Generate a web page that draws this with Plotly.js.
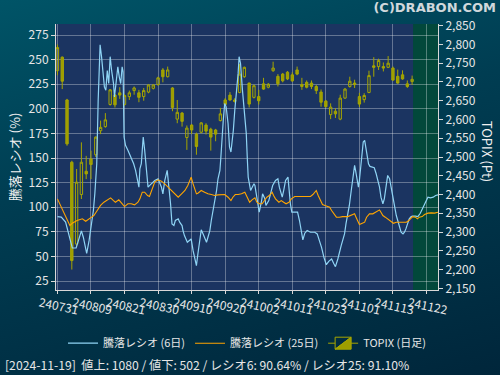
<!DOCTYPE html>
<html>
<head>
<meta charset="utf-8">
<script src="https://cdn.plot.ly/plotly-3.0.1.min.js"></script>
<style>
html,body{margin:0;padding:0;width:500px;height:375px;overflow:hidden;}
body{background:linear-gradient(165deg,#005467 0%,#003d52 40%,#00263b 100%);}
#chart{width:500px;height:375px;}
</style>
</head>
<body>
<div id="chart"></div>
<script>
// Trading days (x index = position in this list)
const days = ['2024-07-31','2024-08-01','2024-08-02','2024-08-05','2024-08-06','2024-08-07','2024-08-08','2024-08-09','2024-08-13','2024-08-14','2024-08-15','2024-08-16','2024-08-19','2024-08-20','2024-08-21','2024-08-22','2024-08-23','2024-08-26','2024-08-27','2024-08-28','2024-08-29','2024-08-30','2024-09-02','2024-09-03','2024-09-04','2024-09-05','2024-09-06','2024-09-09','2024-09-10','2024-09-11','2024-09-12','2024-09-13','2024-09-17','2024-09-18','2024-09-19','2024-09-20','2024-09-24','2024-09-25','2024-09-26','2024-09-27','2024-09-30','2024-10-01','2024-10-02','2024-10-03','2024-10-04','2024-10-07','2024-10-08','2024-10-09','2024-10-10','2024-10-11','2024-10-15','2024-10-16','2024-10-17','2024-10-18','2024-10-21','2024-10-22','2024-10-23','2024-10-24','2024-10-25','2024-10-28','2024-10-29','2024-10-30','2024-10-31','2024-11-01','2024-11-05','2024-11-06','2024-11-07','2024-11-08','2024-11-11','2024-11-12','2024-11-13','2024-11-14','2024-11-15','2024-11-18','2024-11-19'];

// Tick labels (every 7 trading days)
const tickLabels = ['240731','240809','240821','240830','240910','240920','241002','241011','241023','241101','241113','241122'];

// TOPIX daily candles
const topixOpen  = [2730,2766,2652,2486,2268,2400,2462,2495,2506,2570,2581,2640,2665,2671,2640,2661,2677,2671,2661,2673,2683,2693,2732,2714,2684,2601,2617,2552,2585,2561,2566,2585,2574,2572,2597,2652,2665,2652,2672,2714,2697,2659,2661,2695,2686,2730,2715,2721,2726,2719,2732,2693,2699,2697,2688,2673,2649,2613,2622,2601,2657,2688,2697,2661,2653,2672,2743,2741,2741,2739,2737,2715,2719,2695,2701];
const topixHigh  = [2800,2768,2655,2490,2468,2539,2503,2517,2555,2597,2617,2681,2668,2686,2667,2677,2688,2679,2684,2694,2694,2714,2737,2741,2686,2652,2620,2584,2588,2565,2593,2590,2578,2575,2631,2657,2673,2657,2748,2741,2698,2693,2679,2711,2697,2754,2721,2724,2729,2726,2741,2711,2704,2704,2692,2680,2652,2643,2630,2666,2684,2714,2706,2671,2670,2730,2766,2762,2752,2769,2741,2733,2731,2704,2717];
const topixLow   = [2718,2681,2530,2200,2262,2388,2441,2441,2500,2561,2578,2637,2632,2655,2637,2652,2666,2646,2650,2670,2680,2690,2699,2712,2622,2590,2581,2519,2561,2506,2563,2560,2517,2542,2595,2637,2650,2645,2670,2711,2632,2656,2640,2679,2683,2727,2688,2699,2705,2700,2718,2679,2683,2681,2668,2634,2632,2601,2604,2598,2655,2685,2684,2633,2645,2670,2714,2732,2728,2737,2703,2695,2706,2684,2692];
const topixClose = [2792,2702,2535,2224,2433,2486,2455,2480,2553,2579,2599,2679,2639,2665,2664,2671,2684,2659,2677,2692,2692,2711,2714,2732,2632,2619,2595,2577,2572,2528,2591,2569,2553,2561,2615,2640,2652,2648,2721,2739,2641,2690,2650,2681,2694,2737,2695,2703,2708,2703,2721,2688,2686,2688,2677,2646,2634,2633,2615,2657,2681,2702,2693,2641,2664,2717,2739,2757,2737,2750,2705,2697,2708,2688,2707];

// 騰落レシオ (6日): position in trading days, value (%)
const ratio6X = [0,0.8,1.7,2.2,2.6,3.1,3.9,4.3,4.7,5.0,5.4,5.9,6.1,6.6,7.1,7.5,7.8,8.2,8.5,8.9,9.2,9.6,9.8,10.1,10.4,10.7,11.0,11.3,11.7,11.9,12.3,12.6,12.9,13.2,13.5,13.7,13.9,14.2,14.7,15.3,15.9,16.3,16.7,17.0,17.2,17.5,17.7,17.9,18.2,18.6,18.9,19.2,19.7,20.3,21.0,21.7,22.0,22.4,22.9,23.2,23.6,23.9,24.3,24.6,25.2,25.5,26.0,26.2,26.5,27.1,27.6,27.9,28.3,28.6,29.0,29.3,29.7,30.0,30.4,30.7,31.1,31.4,31.8,32.1,32.5,32.8,33.2,33.5,33.9,34.1,34.3,34.6,34.9,35.2,35.6,35.9,36.2,36.4,36.7,37.0,37.3,37.7,37.9,38.2,38.6,38.9,39.2,39.4,39.6,39.8,40.3,41.0,41.2,41.6,42.1,42.6,42.8,43.3,43.5,44.1,44.6,44.9,45.5,46.0,46.3,46.9,47.2,47.6,48.1,48.3,48.6,48.9,49.7,50.1,50.5,50.8,51.2,51.6,52.1,52.8,53.7,54.2,54.7,55.1,55.6,56.1,56.6,57.2,57.7,58.0,58.5,58.8,59.2,59.5,59.9,60.2,60.6,60.9,61.3,61.6,62.0,62.2,62.5,62.8,63.0,63.4,63.6,63.8,64.1,64.3,64.5,64.9,65.2,65.6,66.1,66.5,66.8,67.2,67.5,67.9,68.2,68.6,68.9,69.3,69.6,70.0,70.3,70.7,71.0,71.4,71.7,72.1,72.4,72.7,73.1,73.4,73.8,74.1,74.7,75.2,75.7,76.1,76.6,77.0,77.3,77.8,78.4,78.9,79.4];
const ratio6Y = [90.5,90,85,76,66,58.6,58.6,66,73,76,69.5,56,53,66,83,96.7,113.6,144,209,265,253,232.5,222,219,239,225.7,253,239,225.7,212,229,242.7,232.5,225.7,242.7,237.6,171.4,163,158,151,144.2,137.4,127.2,120.4,139,144.2,158,171.4,158,130.6,120.4,122,124,127.2,128.9,120.4,113.6,127.2,137.4,123.8,103.5,83.1,81.4,86.5,88.2,84.8,81.4,76.3,71.2,64.4,66.1,67.8,55.9,49.1,40.6,52.5,69.5,77,72.9,69.5,64.4,69.5,76.3,86.5,96.7,106.8,117,128.9,137.4,151,168,188.4,205.4,202,185,161.2,156.1,164.6,178.2,198.6,212.2,236,253,246.1,219,202,185,174.8,151,130.6,117,123.8,122.1,108.5,95,106.8,113.6,108.5,101.8,106.8,115.3,122.1,127.2,128.9,120.4,110.2,117,127.2,130.6,117,103.5,95,95,95,86.5,78,66.8,73.6,76.3,74.6,74.6,72.9,66.1,59.3,49.1,41.6,45,47.4,42.3,39.6,47.4,54.2,61,66.1,72.9,83.1,93.3,101.8,117,130.6,142.5,137.4,127.2,120.4,127.2,144.2,154.4,166.3,168,161.2,156.1,144.2,141.5,140.8,140.1,134,128.9,120.4,110.2,103.5,108.5,125.5,132.3,128.9,120.4,110.2,100.1,91.6,86.5,78,74.6,72.9,74.6,78,83.1,88.2,90.5,90.9,90.9,90.5,93.9,98.4,103.5,106.8,110.2,109.5,110.2,111.9,112.6];

// 騰落レシオ (25日)
const ratio25X = [0,2.6,3.1,4.1,5.2,5.9,6.9,7.6,8.3,9.0,9.7,10.4,11.1,11.7,12.1,12.8,13.5,14.0,14.7,15.4,16.1,16.8,17.2,17.7,18.2,18.8,19.2,19.7,20.3,21.0,21.7,22.4,23.1,23.8,24.5,25.2,25.9,26.6,27.2,27.6,27.9,28.3,28.6,29.0,29.3,30.0,30.7,31.4,32.1,32.8,33.5,34.2,34.9,35.6,36.2,36.6,37.1,37.7,38.4,39.1,39.6,40.1,40.6,41.2,41.6,42.1,42.7,43.2,43.7,44.2,44.8,45.1,45.5,46.2,46.7,47.2,47.7,48.3,48.8,49.5,50.7,52.1,52.8,53.3,54.0,54.4,54.9,55.3,55.8,56.3,56.8,57.2,57.7,58.2,58.8,59.5,60.6,61.3,62.0,62.3,62.7,63.0,63.6,64.1,64.5,65.1,65.8,66.4,66.8,67.2,67.5,67.9,68.4,68.9,69.6,70.1,70.7,71.4,72.1,72.8,73.3,73.8,74.1,74.7,75.1,75.5,76.1,76.6,77.3,78.0,78.7,79.4];
const ratio25Y = [108.5,81.4,83.8,86.5,88.2,85.8,89.2,91.6,96.7,101.8,105.1,107.5,109.5,106.8,105.1,107.5,103.5,100.7,103.5,103.5,102.4,105.1,108.5,115.3,115.3,111.9,110.9,118,125.5,127.9,126.5,123.8,120.4,117,113.6,110.2,113.6,117,122.1,127.9,130.6,123.8,118.7,113.6,114.3,117,115.3,113.6,112.9,111.9,112.6,112.9,112.9,110.2,106.8,110.2,112.9,112.9,113.6,115.3,110.2,105.1,107.5,109.5,105.1,103.5,103.5,106.8,110.2,111.9,115.3,111.9,108.5,105.1,106.8,105.1,103.5,105.1,108.5,110.9,110.9,110.9,110.9,112.9,117,111.9,106.8,102.8,101.8,100.7,100,96.7,93.3,89.9,89.9,90.5,90.5,91.6,93.3,89.9,84.8,82.4,83.7,84.8,89.9,93.3,93.3,95,96,97.3,95,91.6,89.9,88.2,85.8,83.7,84.8,84.8,84.8,84.8,86.5,89.2,90.5,89.9,88.2,89.9,90.5,92.6,94,94.3,94,95];

// Footer values
const lastDate = '2024-11-19';
const advances = 1080, declines = 502;
const lastRatio6 = '90.64', lastRatio25 = '91.10';

const ratioTicks = [25,50,75,100,125,150,175,200,225,250,275];

const dayIdx = days.map((d, i) => i);
const tickIdx = tickLabels.map((t, i) => i * 7);

const gridCol = 'rgba(255,255,255,0.32)';
const axCol = '#d8d8d8';
const jp = '"Noto Sans CJK JP", "Noto Sans", sans-serif';

const traces = [
  {
    type: 'candlestick', name: 'TOPIX (日足)', x: dayIdx,
    open: topixOpen, high: topixHigh, low: topixLow, close: topixClose,
    xaxis: 'x', yaxis: 'y', legendrank: 3,
    increasing: {line: {color: '#a6a600', width: 1}, fillcolor: 'rgba(0,0,0,0)'},
    decreasing: {line: {color: '#a6a600', width: 1}, fillcolor: '#9e9e00'},
    whiskerwidth: 0
  },
  {
    type: 'scatter', mode: 'lines', name: '騰落レシオ (6日)', x: ratio6X, y: ratio6Y,
    xaxis: 'x', yaxis: 'y2', legendrank: 1,
    line: {color: '#8fd4f5', width: 1.2}
  },
  {
    type: 'scatter', mode: 'lines', name: '騰落レシオ (25日)', x: ratio25X, y: ratio25Y,
    xaxis: 'x', yaxis: 'y2', legendrank: 2,
    line: {color: '#ffa500', width: 1.1}
  }
];

const layout = {
  width: 500, height: 375,
  margin: {l: 56, r: 62, t: 24, b: 85},
  paper_bgcolor: 'rgba(0,0,0,0)',
  plot_bgcolor: '#1b3461',
  font: {family: jp, color: '#e6e6e6', size: 12},
  showlegend: true,
  title: {text: '<b>(C)DRABON.COM</b>', x: 0.992, xanchor: 'right', xref: 'container', y: 0.979, yanchor: 'middle', yref: 'container', font: {size: 13, color: '#d0d8dc', family: '"DejaVu Sans", sans-serif'}},
  legend: {orientation: 'h', x: 0.5, xanchor: 'center', y: -0.2, yanchor: 'middle', itemwidth: 30, font: {size: 11, color: '#e6e6e6'}, bgcolor: 'rgba(0,0,0,0)'},
  xaxis: {
    range: [-0.3, 79.4], tickmode: 'array', tickvals: tickIdx, ticktext: tickLabels,
    tickangle: 12, ticklabelshift: -18, ticklabelstandoff: -2, ticks: 'outside', ticklen: 3, tickcolor: axCol,
    showgrid: true, gridcolor: gridCol, showline: true, linecolor: axCol, zeroline: false,
    rangeslider: {visible: false}, tickfont: {size: 12}
  },
  yaxis: {
    side: 'right', range: [2145.5, 2854.5], tick0: 2150, dtick: 50, tickformat: ',d',
    showgrid: false, ticks: 'outside', ticklen: 4, tickcolor: axCol,
    showline: true, linecolor: axCol, zeroline: false, tickfont: {size: 12}
  },
  yaxis2: {
    overlaying: 'y', side: 'left', range: [15.9, 286.2], tickmode: 'array', tickvals: ratioTicks,
    showgrid: true, gridcolor: gridCol, ticks: 'outside', ticklen: 4, tickcolor: axCol,
    showline: true, linecolor: axCol, zeroline: false, tickfont: {size: 12},
    title: {text: '騰落レシオ (%)', font: {size: 13, color: '#f0f0f0'}}
  },
  shapes: [
    {type: 'rect', xref: 'x', yref: 'paper', x0: 74.2, x1: 79.4, y0: 0, y1: 1, layer: 'below', fillcolor: '#02483b', line: {width: 0}}
  ],
  annotations: [
    {text: 'TOPIX (Pt)', xref: 'paper', yref: 'paper', x: 1.128, y: 0.52, xanchor: 'center', yanchor: 'middle', textangle: 90, showarrow: false, font: {size: 13, color: '#f0f0f0'}},
    {text: '[' + lastDate + ']  値上: ' + advances + ' / 値下: ' + declines + ' / レシオ6: ' + lastRatio6 + '% / レシオ25: ' + lastRatio25 + '%',
     xref: 'paper', yref: 'paper', x: -0.139, y: -0.282, xanchor: 'left', yanchor: 'middle', showarrow: false, font: {size: 12.2, color: '#e6e6e6'}}
  ]
};

Plotly.newPlot('chart', traces, layout, {displayModeBar: false, staticPlot: true});
</script>
</body>
</html>
